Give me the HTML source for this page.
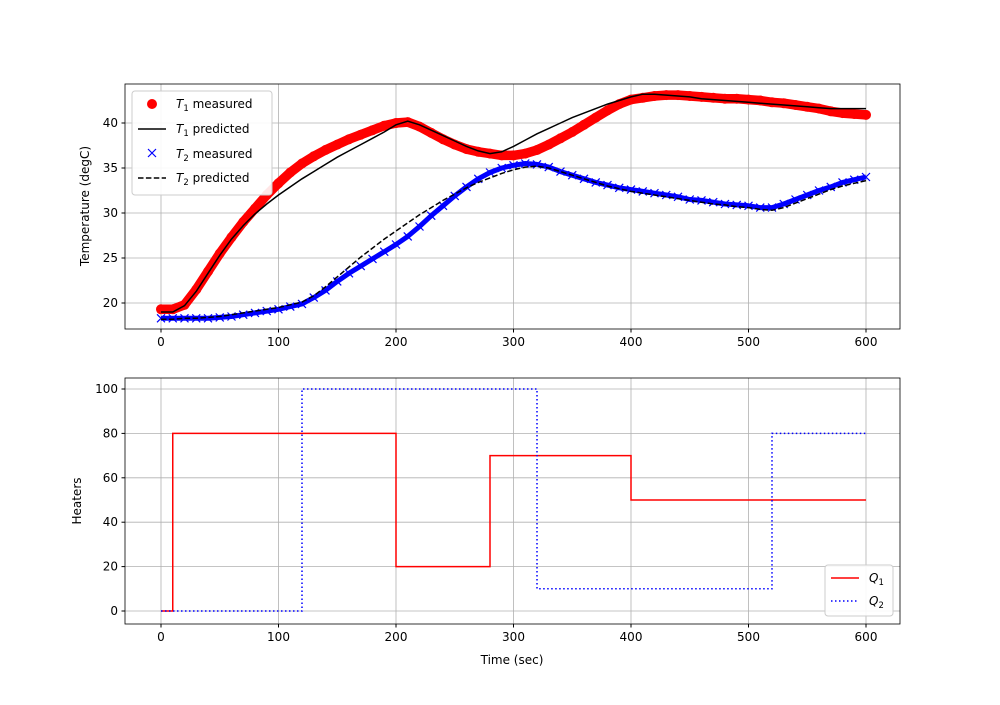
<!DOCTYPE html>
<html><head><meta charset="utf-8"><style>
body{margin:0;background:#fff}
svg text{font-family:"DejaVu Sans","Liberation Sans",sans-serif;font-size:12px;fill:#000}
</style></head><body>
<svg id="c" width="1000" height="700" xmlns="http://www.w3.org/2000/svg"></svg>
<script>
const times=[0,10,20,30,40,50,60,70,80,90,100,110,120,130,140,150,160,170,180,190,200,210,220,230,240,250,260,270,280,290,300,310,320,330,340,350,360,370,380,390,400,410,420,430,440,450,460,470,480,490,500,510,520,530,540,550,560,570,580,590,600];
const t1Measured=[19.3,19.3,19.8,21.5,23.5,25.5,27.3,29.0,30.5,32.0,33.3,34.5,35.5,36.3,37.0,37.6,38.2,38.7,39.2,39.7,40.0,40.1,39.6,38.9,38.2,37.6,37.1,36.8,36.6,36.4,36.4,36.6,37.0,37.6,38.3,39.0,39.8,40.6,41.4,42.1,42.6,42.8,43.0,43.1,43.1,43.0,42.9,42.8,42.7,42.7,42.6,42.5,42.3,42.2,42.0,41.8,41.6,41.3,41.1,41.0,40.9];
const t1Predicted=[19.0,19.0,19.7,21.3,23.3,25.3,27.1,28.6,29.9,31.0,32.0,32.9,33.8,34.6,35.4,36.2,36.9,37.6,38.3,39.0,39.8,40.2,39.8,39.2,38.6,38.0,37.4,36.9,36.6,36.8,37.4,38.1,38.8,39.4,40.0,40.6,41.1,41.6,42.1,42.5,42.9,43.2,43.2,43.1,43.0,42.9,42.7,42.6,42.5,42.4,42.3,42.2,42.1,42.0,41.9,41.8,41.7,41.6,41.6,41.6,41.6];
const t2Measured=[18.3,18.3,18.3,18.3,18.3,18.4,18.5,18.7,18.9,19.1,19.3,19.6,19.9,20.6,21.4,22.4,23.3,24.1,24.9,25.7,26.5,27.4,28.5,29.7,30.8,31.9,32.9,33.8,34.5,35.0,35.3,35.5,35.4,35.1,34.6,34.2,33.8,33.4,33.1,32.8,32.6,32.4,32.2,32.0,31.8,31.5,31.4,31.2,31.0,30.9,30.8,30.6,30.6,31.0,31.5,32.0,32.5,32.9,33.4,33.7,34.0];
const t2Predicted=[18.2,18.2,18.3,18.3,18.4,18.5,18.7,18.9,19.1,19.3,19.5,19.8,20.1,20.8,21.8,22.9,24.0,25.1,26.1,27.1,28.0,28.9,29.8,30.6,31.4,32.1,32.8,33.4,33.9,34.4,34.8,35.1,35.2,35.0,34.6,34.2,33.8,33.4,33.0,32.7,32.4,32.2,32.0,31.8,31.6,31.4,31.2,31.0,30.9,30.7,30.6,30.4,30.3,30.6,31.1,31.6,32.1,32.6,33.0,33.3,33.6];
const q1Times=[0,10,200,280,400,600];
const q1Values=[0,80,20,70,50];
const q2Times=[0,120,320,520,600];
const q2Values=[0,100,10,80];
const xTicks=[0,100,200,300,400,500,600];
const y1Ticks=[20,25,30,35,40];
const y2Ticks=[0,20,40,60,80,100];

const NS="http://www.w3.org/2000/svg";
const svg=document.getElementById('c');
function mk(tag,at,parent){const e=document.createElementNS(NS,tag);for(const k in at)e.setAttribute(k,at[k]);(parent||svg).appendChild(e);return e;}
const X=v=>161+v*(705/600);
const Y1=v=>303-(v-20)*9;
const Y2=v=>611-v*(222/100);
const P1={l:125,r:900,t:84,b:329}, P2={l:125,r:900,t:378,b:624};

function axes(P,Y,yt,name){
  const g=mk('g',{});
  
  
  xTicks.forEach(v=>{const x=X(v);
    const l=mk('line',{x1:x,x2:x,y1:P.t,y2:P.b,stroke:'#b0b0b0','stroke-width':0.8},g);
    mk('line',{x1:x,x2:x,y1:P.b,y2:P.b+3.5,stroke:'#000'},g);
    const t=mk('text',{x:x,y:P.b+17,'text-anchor':'middle'},g);t.textContent=v;});
  yt.forEach(v=>{const y=Y(v);
    const l=mk('line',{x1:P.l,x2:P.r,y1:y,y2:y,stroke:'#b0b0b0','stroke-width':0.8},g);
    mk('line',{x1:P.l-3.5,x2:P.l,y1:y,y2:y,stroke:'#000'},g);
    const t=mk('text',{x:P.l-7,y:y+4,'text-anchor':'end'},g);t.textContent=v;});
  return g;
}
function frame(P,name){const r=mk('rect',{x:P.l,y:P.t,width:P.r-P.l,height:P.b-P.t,fill:'none',stroke:'#000','stroke-width':0.8});}
function pts(xs,ys,Y){return xs.map((t,i)=>X(t)+','+Y(ys[i])).join(' ');}

axes(P1,Y1,y1Ticks,'top-axes');
axes(P2,Y2,y2Ticks,'bottom-axes');

const defs=mk('defs',{});
const cp=mk('clipPath',{id:'cp1'},defs);mk('rect',{x:P1.l,y:P1.t,width:P1.r-P1.l,height:P1.b-P1.t},cp);

const g1=mk('g',{'clip-path':'url(#cp1)'});


mk('polyline',{points:pts(times,t1Measured,Y1),fill:'none',stroke:'red','stroke-width':9.5,'stroke-linejoin':'round','stroke-linecap':'round'},g1);
times.forEach((t,i)=>{const c=mk('circle',{cx:X(t),cy:Y1(t1Measured[i]),r:5,fill:'red'},g1);});
const g2=mk('g',{'clip-path':'url(#cp1)'});


mk('polyline',{points:pts(times,t2Measured,Y1),fill:'none',stroke:'blue','stroke-width':5,'stroke-linejoin':'round'},g2);
times.forEach((t,i)=>{const x=X(t),y=Y1(t2Measured[i]);const p=mk('path',{d:`M${x-4},${y-4}L${x+4},${y+4}M${x-4},${y+4}L${x+4},${y-4}`,stroke:'blue','stroke-width':1.2},g2);});
let l=mk('polyline',{points:pts(times,t1Predicted,Y1),fill:'none',stroke:'#000','stroke-width':1.5});

l=mk('polyline',{points:pts(times,t2Predicted,Y1),fill:'none',stroke:'#000','stroke-width':1.5,'stroke-dasharray':'5.5,2.4'});


function stepPts(ts,vs){let s=[];for(let i=0;i<vs.length;i++){s.push(X(ts[i])+','+Y2(vs[i]));s.push(X(ts[i+1])+','+Y2(vs[i]));}return s.join(' ');}
l=mk('polyline',{points:stepPts(q1Times,q1Values),fill:'none',stroke:'red','stroke-width':1.5});

l=mk('polyline',{points:stepPts(q2Times,q2Values),fill:'none',stroke:'blue','stroke-width':1.5,'stroke-dasharray':'1.5,2.5'});


frame(P1,'top-plot-frame');frame(P2,'bottom-plot-frame');

let t=mk('text',{x:89,y:206,'text-anchor':'middle',transform:'rotate(-90 89 206)'});t.textContent='Temperature (degC)';
t=mk('text',{x:81,y:501,'text-anchor':'middle',transform:'rotate(-90 81 501)'});t.textContent='Heaters';
t=mk('text',{x:512,y:664,'text-anchor':'middle'});t.textContent='Time (sec)';

const lg=mk('g',{});
mk('rect',{x:132,y:91,width:140,height:104,rx:3,fill:'#fff','fill-opacity':0.9,stroke:'#ccc'},lg);
mk('circle',{cx:152,cy:104,r:5,fill:'red'},lg);
mk('line',{x1:138,x2:166,y1:129,y2:129,stroke:'#000','stroke-width':1.5},lg);
mk('path',{d:'M148,149L156,157M148,157L156,149',stroke:'blue','stroke-width':1.2},lg);
mk('line',{x1:138,x2:166,y1:178,y2:178,stroke:'#000','stroke-width':1.5,'stroke-dasharray':'5.5,2.4'},lg);
[['1','measured',108],['1','predicted',133],['2','measured',158],['2','predicted',182]].forEach(a=>{
  const e=mk('text',{x:176,y:a[2]},lg);e.innerHTML=`<tspan font-style="italic">T</tspan><tspan font-size="8.5" dy="3">${a[0]}</tspan><tspan dy="-3"> ${a[1]}</tspan>`;
  });
const lb=mk('g',{});
mk('rect',{x:825,y:565,width:68,height:51,rx:3,fill:'#fff','fill-opacity':0.9,stroke:'#ccc'},lb);
mk('line',{x1:831,x2:859,y1:578,y2:578,stroke:'red','stroke-width':1.5},lb);
mk('line',{x1:831,x2:859,y1:601,y2:601,stroke:'blue','stroke-width':1.5,'stroke-dasharray':'1.5,2.5'},lb);
[['1',582],['2',605]].forEach(a=>{const e=mk('text',{x:869,y:a[1]},lb);e.innerHTML=`<tspan font-style="italic">Q</tspan><tspan font-size="8.5" dy="3">${a[0]}</tspan>`;});
</script>
</body></html>
